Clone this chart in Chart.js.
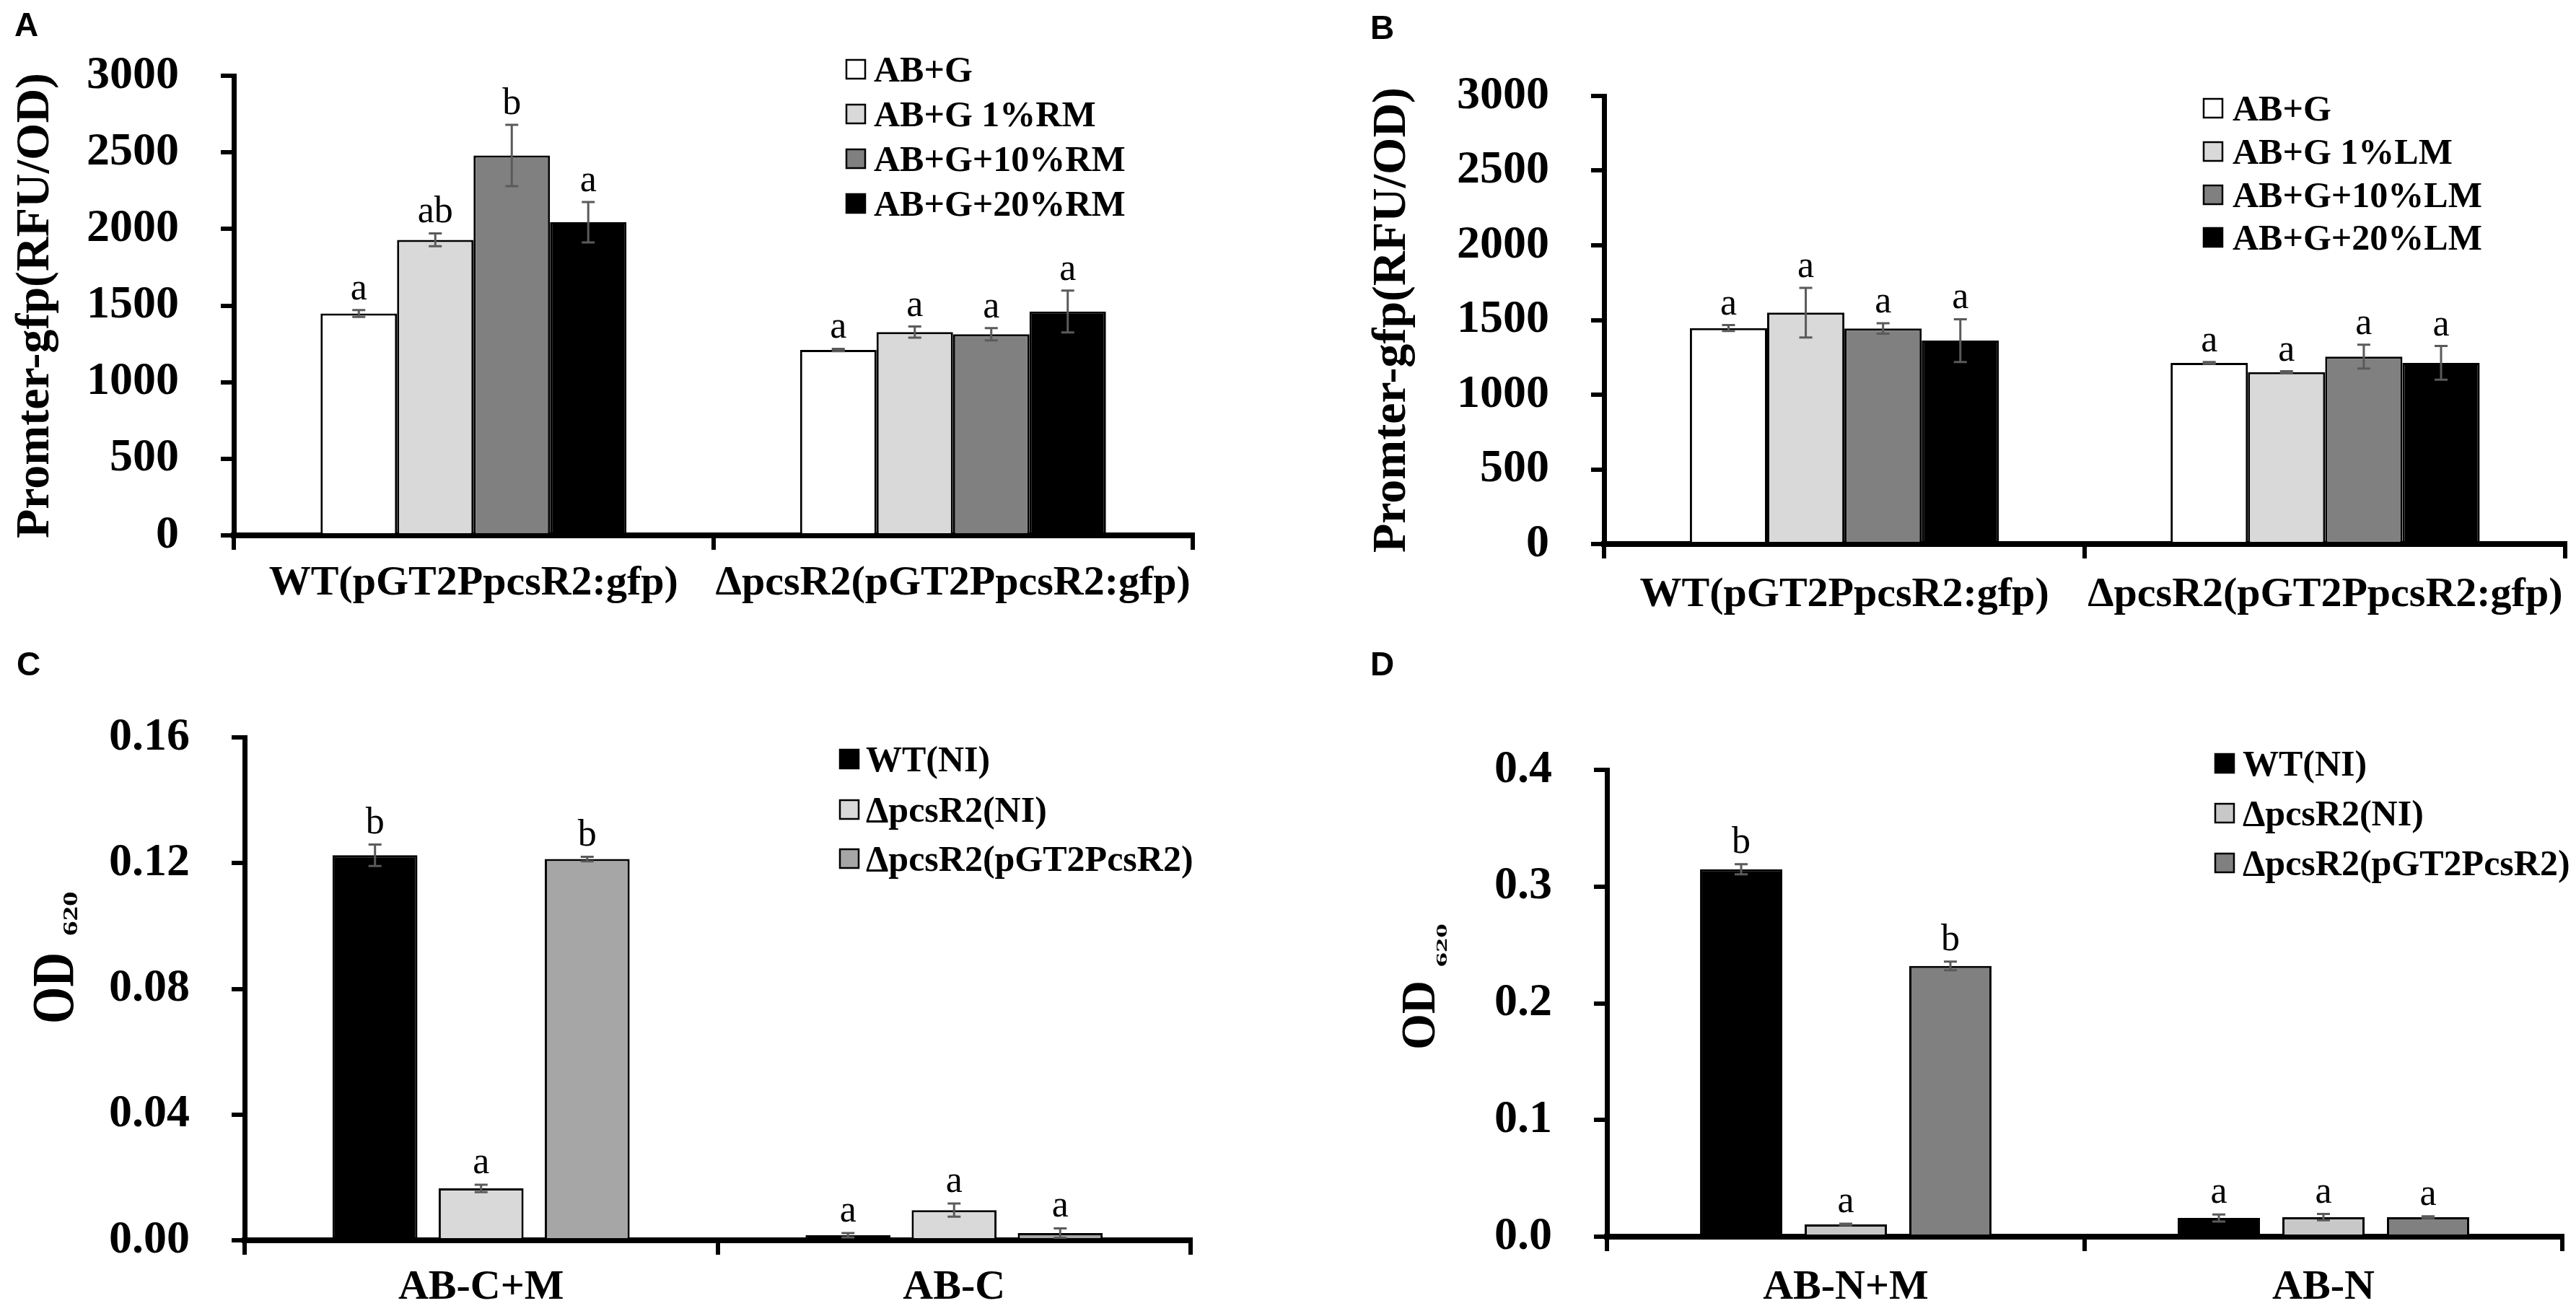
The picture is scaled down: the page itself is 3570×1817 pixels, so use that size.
<!DOCTYPE html>
<html>
<head>
<meta charset="utf-8">
<script src="https://cdn.jsdelivr.net/npm/chart.js@4.4.1/dist/chart.umd.min.js"></script>
<style>
html,body{margin:0;padding:0;background:#fff;width:3570px;height:1817px;overflow:hidden;position:relative}
canvas{position:absolute;display:block}
</style>
</head>
<body>
<canvas id="cA" width="1785" height="900" style="left:0;top:0;width:1785px;height:900px"></canvas>
<canvas id="cB" width="1785" height="900" style="left:1785px;top:0;width:1785px;height:900px"></canvas>
<canvas id="cC" width="1785" height="917" style="left:0;top:900px;width:1785px;height:917px"></canvas>
<canvas id="cD" width="1785" height="917" style="left:1785px;top:900px;width:1785px;height:917px"></canvas>
<script>
// ---------- DATA ----------
// Panel A
const catsAB = ['WT(pGT2PpcsR2:gfp)', '\u0394pcsR2(pGT2PpcsR2:gfp)'];
const seriesA = ['AB+G', 'AB+G 1%RM', 'AB+G+10%RM', 'AB+G+20%RM'];
const valA_G   = [1448, 1210];
const valA_1   = [1929, 1327];
const valA_10  = [2480, 1313];
const valA_20  = [2044, 1461];
const errA_G   = [22, 8];
const errA_1   = [42, 36];
const errA_10  = [200, 40];
const errA_20  = [132, 137];
const letA_G   = ['a', 'a'];
const letA_1   = ['ab', 'a'];
const letA_10  = ['b', 'a'];
const letA_20  = ['a', 'a'];

// Panel B
const seriesB = ['AB+G', 'AB+G 1%LM', 'AB+G+10%LM', 'AB+G+20%LM'];
const valB_G   = [1446, 1213];
const valB_1   = [1549, 1151];
const valB_10  = [1443, 1255];
const valB_20  = [1362, 1213];
const errB_G   = [20, 6];
const errB_1   = [166, 6];
const errB_10  = [35, 80];
const errB_20  = [143, 113];
const letB_G   = ['a', 'a'];
const letB_1   = ['a', 'a'];
const letB_10  = ['a', 'a'];
const letB_20  = ['a', 'a'];

const yTicksAB = [0, 500, 1000, 1500, 2000, 2500, 3000];
const yTickLabelsAB = ['0', '500', '1000', '1500', '2000', '2500', '3000'];

// Panel C
const catsC = ['AB-C+M', 'AB-C'];
const seriesCD = ['WT(NI)', '\u0394pcsR2(NI)', '\u0394pcsR2(pGT2PcsR2)'];
const valC_WT  = [0.1225, 0.0016];
const valC_NI  = [0.0165, 0.0096];
const valC_Co  = [0.1213, 0.0023];
const errC_WT  = [0.0034, 0.0007];
const errC_NI  = [0.0012, 0.0021];
const errC_Co  = [0.0007, 0.0015];
const letC_WT  = ['b', 'a'];
const letC_NI  = ['a', 'a'];
const letC_Co  = ['b', 'a'];
const yTicksC = [0, 0.04, 0.08, 0.12, 0.16];
const yTickLabelsC = ['0.00', '0.04', '0.08', '0.12', '0.16'];

// Panel D
const catsD = ['AB-N+M', 'AB-N'];
const valD_WT  = [0.3148, 0.0160];
const valD_NI  = [0.0105, 0.0167];
const valD_Co  = [0.2320, 0.0167];
const errD_WT  = [0.0043, 0.0030];
const errD_NI  = [0.0006, 0.0027];
const errD_Co  = [0.0037, 0.0008];
const letD_WT  = ['b', 'a'];
const letD_NI  = ['a', 'a'];
const letD_Co  = ['b', 'a'];
const yTicksD = [0, 0.1, 0.2, 0.3, 0.4];
const yTickLabelsD = ['0.0', '0.1', '0.2', '0.3', '0.4'];

// ---------- STYLE ----------
const SERIF = '"Liberation Serif","Times New Roman",Times,serif';
const SANS = '"Liberation Sans",Arial,Helvetica,sans-serif';
const greysAB = ['#ffffff', '#d9d9d9', '#808080', '#000000'];
const greysC = ['#000000', '#d9d9d9', '#a6a6a6'];
const greysD = ['#000000', '#c8c8c8', '#808080'];

function drawRotText(ctx, text, font, baseX, startY, squash) {
  ctx.save();
  ctx.translate(baseX, startY);
  ctx.rotate(-Math.PI / 2);
  ctx.scale(1, squash);
  ctx.font = font;
  ctx.textAlign = 'left';
  ctx.textBaseline = 'alphabetic';
  ctx.fillStyle = '#000';
  ctx.fillText(text, 0, 0);
  ctx.restore();
}

function makePanel(cfg) {
  const canvas = document.getElementById(cfg.id);
  const W = canvas.width, H = canvas.height;
  const A = cfg.area;

  const deco = {
    id: 'deco_' + cfg.id,
    afterDraw(chart) {
      const ctx = chart.ctx;
      const ys = chart.scales.y;
      // error bars + significance letters
      cfg.series.forEach((s, di) => {
        const meta = chart.getDatasetMeta(di);
        meta.data.forEach((bar, j) => {
          const v = s.data[j], e = s.err[j];
          const yTop = ys.getPixelForValue(v + e);
          const yBot = ys.getPixelForValue(v - e);
          ctx.save();
          ctx.strokeStyle = '#5a5a5a';
          ctx.lineWidth = 3;
          ctx.beginPath();
          ctx.moveTo(bar.x, yTop); ctx.lineTo(bar.x, yBot);
          ctx.moveTo(bar.x - 9, yTop); ctx.lineTo(bar.x + 9, yTop);
          ctx.moveTo(bar.x - 9, yBot); ctx.lineTo(bar.x + 9, yBot);
          ctx.stroke();
          ctx.fillStyle = '#000';
          ctx.font = `${cfg.letterSize}px ${SERIF}`;
          ctx.textAlign = 'center';
          ctx.textBaseline = 'alphabetic';
          ctx.fillText(s.letters[j], bar.x, yTop - cfg.letterGap);
          ctx.restore();
        });
      });
      // legend
      const L = cfg.legend;
      ctx.save();
      ctx.font = `bold ${L.size}px ${SERIF}`;
      ctx.textAlign = 'left';
      ctx.textBaseline = 'alphabetic';
      cfg.series.forEach((s, i) => {
        const y = L.ys[i];
        ctx.fillStyle = s.color;
        ctx.fillRect(L.x, y - 13, 26, 26);
        ctx.lineWidth = 2.5;
        ctx.strokeStyle = '#000';
        ctx.strokeRect(L.x, y - 13, 26, 26);
        ctx.fillStyle = '#000';
        ctx.fillText(s.label, L.textX, y + 17);
      });
      ctx.restore();
      // panel letter
      ctx.save();
      ctx.font = `bold 46px ${SANS}`;
      ctx.fillStyle = '#000';
      ctx.textAlign = 'left';
      ctx.textBaseline = 'alphabetic';
      ctx.fillText(cfg.panel.text, cfg.panel.x, cfg.panel.y);
      ctx.restore();
      // OD title with subscript
      if (cfg.od) {
        const o = cfg.od;
        drawRotText(ctx, 'OD', `bold ${o.size}px ${SERIF}`, o.x, o.y, o.squash);
        drawRotText(ctx, '620', `bold ${o.subSize}px ${SERIF}`, o.subX, o.subY, o.subSquash);
      }
    }
  };

  const yTitle = cfg.yTitle ? {
    display: true, text: cfg.yTitle, color: '#000',
    font: { family: SERIF, size: 66, weight: 'bold', lineHeight: 1 },
    padding: { top: cfg.yTitlePad, bottom: 0 }
  } : { display: false };

  return new Chart(canvas.getContext('2d'), {
    type: 'bar',
    data: {
      labels: cfg.categories,
      datasets: cfg.series.map(s => ({
        label: s.label, data: s.data, backgroundColor: s.color,
        borderColor: '#000', borderWidth: 3, borderSkipped: 'start',
        categoryPercentage: cfg.catPct, barPercentage: cfg.barPct
      }))
    },
    options: {
      responsive: false, animation: false, devicePixelRatio: 1,
      layout: { padding: { left: 0, top: A.t, right: W - A.r, bottom: 0 } },
      plugins: { legend: { display: false }, tooltip: { enabled: false } },
      scales: {
        x: {
          z: 1,
          grid: { offset: true, drawOnChartArea: false, drawTicks: true, tickLength: 20, lineWidth: 6, color: '#000' },
          border: { display: true, color: '#000', width: 8 },
          ticks: { font: { family: SERIF, size: 58, weight: 'bold' }, color: '#000', padding: cfg.xPad, maxRotation: 0, minRotation: 0, autoSkip: false },
          afterFit: (s) => { s.height = H - A.b; }
        },
        y: {
          z: 1,
          min: 0, max: cfg.yTicks[cfg.yTicks.length - 1],
          grid: { drawOnChartArea: false, drawTicks: true, tickLength: 18, lineWidth: 6, color: '#000' },
          border: { display: true, color: '#000', width: 7 },
          ticks: { font: { family: SERIF, size: 64, weight: 'bold' }, color: '#000', padding: 58,
                   callback: (v, i) => cfg.yTickLabels[i] },
          afterBuildTicks: (s) => { s.ticks = cfg.yTicks.map(v => ({ value: v })); },
          afterFit: (s) => { s.width = A.l; },
          title: yTitle
        }
      }
    },
    plugins: [deco]
  });
}

// ---------- PANELS ----------
makePanel({
  id: 'cA', area: { l: 324, t: 105, r: 1653, b: 742 },
  categories: catsAB,
  series: [
    { label: seriesA[0], data: valA_G,  err: errA_G,  letters: letA_G,  color: greysAB[0] },
    { label: seriesA[1], data: valA_1,  err: errA_1,  letters: letA_1,  color: greysAB[1] },
    { label: seriesA[2], data: valA_10, err: errA_10, letters: letA_10, color: greysAB[2] },
    { label: seriesA[3], data: valA_20, err: errA_20, letters: letA_20, color: greysAB[3] }
  ],
  yTicks: yTicksAB, yTickLabels: yTickLabelsAB,
  catPct: 0.638, barPct: 1.0, xPad: 12,
  yTitle: 'Promter-gfp(RFU/OD)', yTitlePad: 17,
  letterSize: 52, letterGap: 15,
  legend: { x: 1173, textX: 1211, ys: [96, 158, 220, 282], size: 50 },
  panel: { text: 'A', x: 20, y: 50 }
});

makePanel({
  id: 'cB', area: { l: 438, t: 133, r: 1775, b: 754 },
  categories: catsAB,
  series: [
    { label: seriesB[0], data: valB_G,  err: errB_G,  letters: letB_G,  color: greysAB[0] },
    { label: seriesB[1], data: valB_1,  err: errB_1,  letters: letB_1,  color: greysAB[1] },
    { label: seriesB[2], data: valB_10, err: errB_10, letters: letB_10, color: greysAB[2] },
    { label: seriesB[3], data: valB_20, err: errB_20, letters: letB_20, color: greysAB[3] }
  ],
  yTicks: yTicksAB, yTickLabels: yTickLabelsAB,
  catPct: 0.643, barPct: 1.0, xPad: 16,
  yTitle: 'Promter-gfp(RFU/OD)', yTitlePad: 112,
  letterSize: 52, letterGap: 15,
  legend: { x: 1269, textX: 1309, ys: [150, 210, 270, 329], size: 50 },
  panel: { text: 'B', x: 114, y: 54 }
});

makePanel({
  id: 'cC', area: { l: 339, t: 122, r: 1650, b: 819 },
  categories: catsC,
  series: [
    { label: seriesCD[0], data: valC_WT, err: errC_WT, letters: letC_WT, color: greysC[0] },
    { label: seriesCD[1], data: valC_NI, err: errC_NI, letters: letC_NI, color: greysC[1] },
    { label: seriesCD[2], data: valC_Co, err: errC_Co, letters: letC_Co, color: greysC[2] }
  ],
  yTicks: yTicksC, yTickLabels: yTickLabelsC,
  catPct: 0.673, barPct: 0.80, xPad: 11,
  yTitle: null,
  od: { x: 101, y: 519, size: 66, squash: 1.25, subX: 107, subY: 397, subSize: 41, subSquash: 0.7 },
  letterSize: 52, letterGap: 16,
  legend: { x: 1164, textX: 1200, ys: [152, 222, 290], size: 50 },
  panel: { text: 'C', x: 23, y: 36 }
});

makePanel({
  id: 'cD', area: { l: 442, t: 167, r: 1766, b: 814 },
  categories: catsD,
  series: [
    { label: seriesCD[0], data: valD_WT, err: errD_WT, letters: letD_WT, color: greysD[0] },
    { label: seriesCD[1], data: valD_NI, err: errD_NI, letters: letD_NI, color: greysD[1] },
    { label: seriesCD[2], data: valD_Co, err: errD_Co, letters: letD_Co, color: greysD[2] }
  ],
  yTicks: yTicksD, yTickLabels: yTickLabelsD,
  catPct: 0.657, barPct: 0.786, xPad: 16,
  yTitle: null,
  od: { x: 203, y: 555, size: 64, squash: 1.05, subX: 220, subY: 440, subSize: 40, subSquash: 0.55 },
  letterSize: 52, letterGap: 16,
  legend: { x: 1285, textX: 1323, ys: [158, 227, 296], size: 50 },
  panel: { text: 'D', x: 114, y: 36 }
});
</script>
</body>
</html>
